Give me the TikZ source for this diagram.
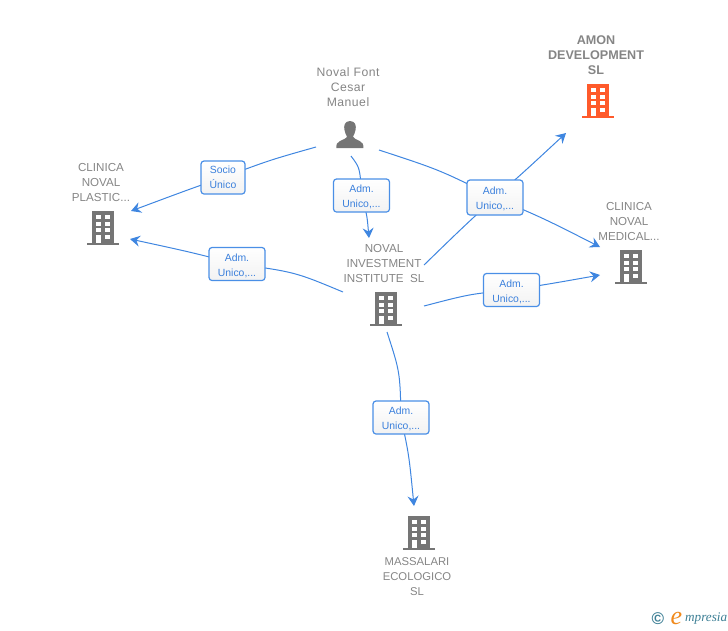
\documentclass[tikz,border=0pt]{standalone}
\usepackage{fontspec}
\setmainfont{Liberation Sans}
\newfontfamily\logofont{Liberation Serif}
\usetikzlibrary{arrows.meta,shadings}
\definecolor{linkblue}{HTML}{3F86E0}
\definecolor{boxblue}{HTML}{4A8FE6}
\definecolor{textblue}{HTML}{3B80DC}
\definecolor{entgray}{HTML}{858585}
\definecolor{icongray}{HTML}{757575}
\definecolor{iconred}{HTML}{FF5A2B}
\definecolor{logoteal}{HTML}{3D7F95}
\definecolor{logoorange}{HTML}{F08A1D}
\tikzset{
  x=1pt,y=-1pt,
  edge/.style={draw=linkblue,line width=1pt,-{Stealth[length=10pt,width=11pt,inset=3.5pt]}},
  linkbox/.style={draw=boxblue,line width=1.2pt,rounded corners=3pt,top color=white,bottom color=white!95!black,
    minimum width=56pt,minimum height=33pt,inner sep=0pt,align=center,text=textblue,
    font=\fontsize{10.4}{15}\selectfont},
  entity/.style={align=center,text=entgray,inner sep=0pt,font=\fontsize{11.6}{15}\selectfont},
  boldentity/.style={entity,font=\fontsize{12.6}{15}\selectfont\bfseries},
  spacedentity/.style={entity,font=\fontsize{12.2}{15}\selectfont\addfontfeature{LetterSpace=4}},
  pics/building/.style={code={
    \fill[#1] (-11,-17) rectangle (11,15);
    \fill[#1] (-16,15) rectangle (16,17);
    \foreach \wy in {-13,-6.5,0,7}{
      \fill[white] (-7,\wy) rectangle (-2.2,\wy+4.3);
      \fill[white] (2.2,\wy) rectangle (7,\wy+4.3);
    }
    \fill[white] (-7,7) rectangle (-2.2,15);
  }}
}
\begin{document}
\begin{tikzpicture}
\useasboundingbox (0,0) rectangle (728,630);
% entities
\node[boldentity] (amon) at (596,55) {AMON\\DEVELOPMENT\\SL};
\pic at (598,101) {building=iconred};
\node[spacedentity] (person) at (348,87) {Noval Font\\Cesar\\Manuel};
\node[entity] (plastic) at (101,183) {CLINICA\\NOVAL\\PLASTIC...};
\pic at (103,228) {building=icongray};
\node[entity] (medical) at (629,221) {CLINICA\\NOVAL\\MEDICAL...};
\pic at (631,267) {building=icongray};
\node[entity] (noval) at (384,263) {NOVAL\\INVESTMENT\\INSTITUTE\ \ SL};
\pic at (386,309) {building=icongray};
\node[entity,font=\fontsize{11.3}{15}\selectfont] (massalari) at (417,577) {MASSALARI\\ECOLOGICO\\SL};
\pic at (419,533) {building=icongray};
% person icon
\fill[icongray] (350,121) .. controls (344.5,121) and (343.5,126) .. (344.5,130)
  .. controls (345,133) and (346,135) .. (347,136.5)
  .. controls (346.5,138.5) and (343,139.5) .. (340,141)
  .. controls (337,142.5) and (336.3,144) .. (336.3,148)
  -- (363.4,148)
  .. controls (363.4,144) and (362.7,142.5) .. (359.7,141)
  .. controls (356.7,139.5) and (353.5,138.5) .. (353,136.5)
  .. controls (354,135) and (355,133) .. (355.5,130)
  .. controls (356.5,126) and (355.5,121) .. (350,121) -- cycle;
% free ends
\coordinate (sA) at (316,147);
\coordinate (eA) at (131,211);
\coordinate (sB) at (351,156);
\coordinate (eB) at (369,238);
\coordinate (sC) at (379,150);
\coordinate (eC) at (600,247);
\coordinate (sD) at (424,265);
\coordinate (eD) at (566,133);
\coordinate (sE) at (424,306);
\coordinate (eE) at (600,275);
\coordinate (sF) at (343,292);
\coordinate (eF) at (130,239);
\coordinate (sG) at (387,332);
\coordinate (eG) at (414,506);
% label positions
\coordinate (pA) at (223,177.5);
\coordinate (pB) at (361.5,195.5);
\coordinate (pC) at (495,197.5);
\coordinate (pE) at (511.5,290);
\coordinate (pF) at (237,264);
\coordinate (pG) at (401,417.5);
% connectors
\draw[edge] (sA) .. controls (270,160) .. (pA) .. controls (190,189) .. (eA);
\draw[edge] (sB) .. controls (360,168) .. (pB) .. controls (367,215) .. (eB);
\draw[edge] (sC) .. controls (440,170) .. (pC) .. controls (545,219) .. (eC);
\draw[edge] (sD) .. controls (460,230) .. (pC) .. controls (525,171) .. (eD);
\draw[edge] (sE) .. controls (470,294) .. (pE) .. controls (555,283) .. (eE);
\draw[edge] (sF) .. controls (295,272) .. (pF) .. controls (190,252) .. (eF);
\draw[edge] (sG) .. controls (400,372) .. (pG) .. controls (409,455) .. (eG);
% link labels
\node[linkbox,minimum width=44pt] (lA) at (pA) {Socio\\Único};
\node[linkbox] (lB) at (pB) {\strut Adm.\\Unico,...};
\node[linkbox,minimum height=35pt] (lC) at (pC) {\strut Adm.\\Unico,...};
\node[linkbox] (lE) at (pE) {\strut Adm.\\Unico,...};
\node[linkbox] (lF) at (pF) {\strut Adm.\\Unico,...};
\node[linkbox] (lG) at (pG) {\strut Adm.\\Unico,...};
% logo
\node[text=logoteal,inner sep=0pt,font=\fontsize{17}{17}\selectfont\bfseries] (copy) at (658,619) {©};
\node[text=logoorange,inner sep=0pt,font=\logofont\itshape\fontsize{26}{26}\selectfont] (logoe) at (676.5,618) {e};
\node[text=logoteal,inner sep=0pt,anchor=west,font=\logofont\itshape\fontsize{13.2}{14}\selectfont] (logot) at (685,619) {mpresia};
\end{tikzpicture}
\end{document}
